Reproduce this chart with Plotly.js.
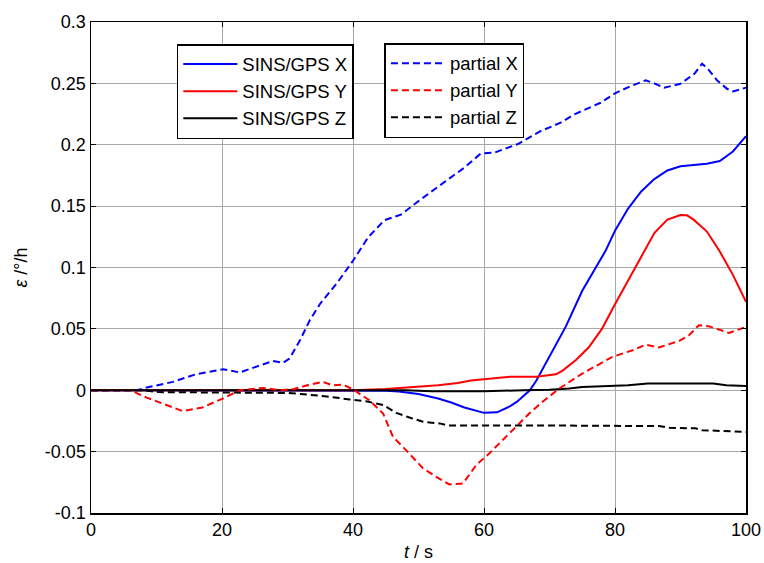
<!DOCTYPE html>
<html>
<head>
<meta charset="utf-8">
<script src="https://cdn.plot.ly/plotly-3.0.1.min.js"></script>
<style>html,body{margin:0;padding:0;background:#fff;}#chart{width:764px;height:563px;}</style>
</head>
<body>
<div id="chart"></div>
<script>
// ---- data ----
const sinsX_t = [0, 40, 45, 47, 50, 53, 55, 57, 60, 62, 64, 65, 67, 68, 70, 72.5, 75, 77, 78.6, 80, 82, 84, 86, 88, 90, 92, 94, 96, 98, 100];
const sinsX_v = [0, 0, -0.0005, -0.001, -0.003, -0.0067, -0.010, -0.014, -0.0184, -0.018, -0.013, -0.0095, 0.0, 0.008, 0.027, 0.052, 0.081, 0.099, 0.114, 0.130, 0.148, 0.162, 0.172, 0.179, 0.1825, 0.1835, 0.1846, 0.1868, 0.1945, 0.207];

const sinsY_t = [0, 40, 45, 50, 53, 56, 58, 60, 62, 64, 68, 70, 71, 72, 74, 76, 78, 80, 82, 84, 86, 88, 90, 91, 92, 94, 96, 98, 100];
const sinsY_v = [0, 0, 0.001, 0.0025, 0.004, 0.006, 0.008, 0.009, 0.010, 0.011, 0.011, 0.012, 0.013, 0.016, 0.0245, 0.035, 0.05, 0.07, 0.089, 0.108, 0.128, 0.139, 0.1428, 0.1425, 0.139, 0.1295, 0.113, 0.094, 0.072];

const sinsZ_t = [0, 48, 52, 60, 66, 70, 73, 75, 78, 80, 82, 85, 87, 95, 97, 100];
const sinsZ_v = [0, 0, -0.0008, -0.0008, 0, 0.0005, 0.0015, 0.0027, 0.0033, 0.0035, 0.004, 0.0055, 0.0055, 0.0055, 0.004, 0.0035];

const partX_t = [0, 7, 8.5, 12.5, 16, 18.6, 20.2, 22.7, 25.3, 27.8, 29.3, 30.3, 31.9, 33.4, 35, 37.5, 40, 42.3, 44.8, 47.3, 50.4, 53.9, 57, 59.5, 61.6, 65.1, 68.7, 71.7, 73.8, 77.8, 80, 82.4, 84.7, 86, 87.5, 90, 92.1, 93.3, 94.3, 95.6, 97.1, 98, 100];
const partX_v = [0, 0, 0.0022, 0.0068, 0.013, 0.0158, 0.0171, 0.0145, 0.019, 0.0239, 0.0223, 0.0258, 0.0407, 0.057, 0.0706, 0.0869, 0.1055, 0.1245, 0.1386, 0.143, 0.1557, 0.169, 0.1814, 0.1928, 0.1936, 0.2004, 0.2112, 0.218, 0.2248, 0.2342, 0.2419, 0.2478, 0.2525, 0.25, 0.2464, 0.2497, 0.2577, 0.266, 0.261, 0.2524, 0.2456, 0.2434, 0.2465];

const partY_t = [0, 6, 8.5, 11, 14, 17, 20, 22.7, 26.3, 28.8, 31, 33, 35.4, 36.9, 38.5, 40, 42.5, 44.6, 46.1, 48.1, 50.7, 52.7, 54.7, 56.8, 58.8, 60.8, 62.8, 64.9, 66.9, 68.9, 71.5, 75, 79.6, 82.7, 84.7, 86.7, 89.8, 91.3, 92.8, 94.4, 97.4, 100];
const partY_v = [0, 0, -0.006, -0.011, -0.017, -0.014, -0.007, 0, 0.0019, 0, 0.001, 0.004, 0.0068, 0.004, 0.0047, 0.0006, -0.0081, -0.019, -0.038, -0.0488, -0.0637, -0.0705, -0.0767, -0.0759, -0.061, -0.0515, -0.0407, -0.0298, -0.019, -0.0095, 0.0014, 0.0136, 0.0272, 0.0326, 0.0372, 0.0348, 0.0402, 0.0448, 0.053, 0.052, 0.0467, 0.0516];

const partZ_t = [0, 8, 10, 30, 32, 36, 39.5, 42, 44.6, 46.6, 48.5, 50.7, 53.2, 54.5, 70, 86.7, 88.3, 92.3, 93.3, 96, 100];
const partZ_v = [0, 0, -0.0015, -0.0022, -0.003, -0.005, -0.0075, -0.009, -0.012, -0.0184, -0.022, -0.0257, -0.027, -0.0287, -0.0287, -0.0292, -0.0306, -0.031, -0.0325, -0.033, -0.034];

const seriesNames = ['SINS/GPS X', 'SINS/GPS Y', 'SINS/GPS Z', 'partial X', 'partial Y', 'partial Z'];
const xTickVals = [0, 20, 40, 60, 80, 100];
const xTickText = ['0', '20', '40', '60', '80', '100'];
const yTickVals = [-0.1, -0.05, 0, 0.05, 0.1, 0.15, 0.2, 0.25, 0.3];
const yTickText = ['-0.1', '-0.05', '0', '0.05', '0.1', '0.15', '0.2', '0.25', '0.3'];

// ---- drawing ----
const FONT = 'Liberation Sans, Arial, sans-serif';
const DASH = '7px,4px';
function tr(x, y, name, color, dash, legend) {
  return {x: x, y: y, name: name, type: 'scatter', mode: 'lines',
    line: {color: color, width: 2, dash: dash}, legend: legend};
}
const traces = [
  tr(sinsX_t, sinsX_v, seriesNames[0], '#0000ff', 'solid', 'legend'),
  tr(sinsY_t, sinsY_v, seriesNames[1], '#ff0000', 'solid', 'legend'),
  tr(sinsZ_t, sinsZ_v, seriesNames[2], '#000000', 'solid', 'legend'),
  tr(partX_t, partX_v, seriesNames[3], '#0000ff', DASH, 'legend2'),
  tr(partY_t, partY_v, seriesNames[4], '#ff0000', DASH, 'legend2'),
  tr(partZ_t, partZ_v, seriesNames[5], '#000000', DASH, 'legend2')
];
const legendBase = {xanchor: 'left', yanchor: 'top', bgcolor: '#ffffff', bordercolor: '#000000',
  borderwidth: 1.5, font: {family: FONT, size: 18.5, color: '#000'}, itemwidth: 54, tracegroupgap: 0};
const layout = {
  width: 764, height: 563,
  margin: {l: 91, r: 18, t: 22, b: 50},
  paper_bgcolor: '#ffffff', plot_bgcolor: '#ffffff',
  font: {family: FONT, size: 18, color: '#000'},
  showlegend: true,
  legend: Object.assign({}, legendBase, {x: 0.131, y: 0.955}),
  legend2: Object.assign({}, legendBase, {x: 0.448, y: 0.957}),
  xaxis: {range: [0, 100], tickvals: xTickVals, ticktext: xTickText, ticks: 'inside', ticklen: 5,
    tickcolor: '#000', showline: true, linecolor: '#000', linewidth: 1.5, mirror: 'ticks',
    showgrid: true, gridcolor: '#a8a8a8', gridwidth: 1, zeroline: false,
    tickfont: {family: FONT, size: 18},
    title: {text: '<i>t</i> / s', font: {family: FONT, size: 18}, standoff: 6}},
  yaxis: {range: [-0.1, 0.3], tickvals: yTickVals, ticktext: yTickText, ticks: 'inside', ticklen: 5,
    tickcolor: '#000', showline: true, linecolor: '#000', linewidth: 1.5, mirror: 'ticks',
    showgrid: true, gridcolor: '#a8a8a8', gridwidth: 1, zeroline: false,
    tickfont: {family: FONT, size: 18},
    title: {text: '<i>ε</i> /°/h', font: {family: FONT, size: 18}, standoff: 12}}
};
Plotly.newPlot('chart', traces, layout, {staticPlot: true, displayModeBar: false});
</script>
</body>
</html>
